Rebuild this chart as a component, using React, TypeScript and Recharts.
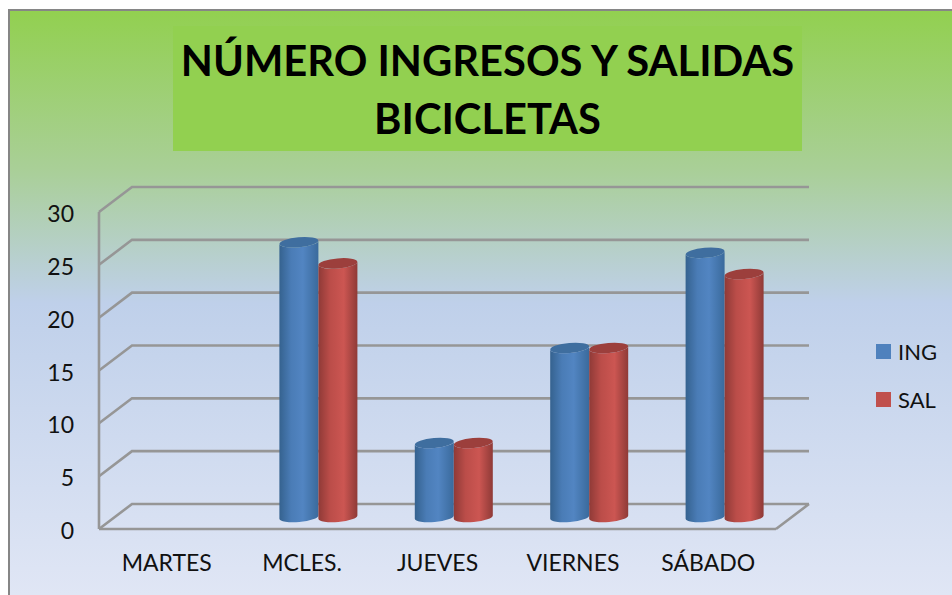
import React from "react";
import { BarChart, Bar, XAxis, YAxis, CartesianGrid, Legend } from "recharts";

const categories = ["MARTES", "MCLES.", "JUEVES", "VIERNES", "SÁBADO"];
const ingValues = [0, 26, 7, 16, 25];
const salValues = [0, 24, 7, 16, 23];
const yTicks = [0, 5, 10, 15, 20, 25, 30];
const titleLines = ["NÚMERO INGRESOS Y SALIDAS", "BICICLETAS"];

const data = categories.map((day, i) => ({ day, ING: ingValues[i], SAL: salValues[i] }));

const FONT = "Lato, 'Open Sans', sans-serif";
const GRID = "#969696";
const DEPTH_X = 33;
const DEPTH_Y = 25;

const gridLine = (p: any) => {
  const { x1, x2, y1, key } = p;
  const d = `M${x1},${y1} L${x1 + DEPTH_X},${y1 - DEPTH_Y} L${x2 + DEPTH_X},${y1 - DEPTH_Y}` +
    (y1 > 520 ? ` M${x2},${y1} L${x2 + DEPTH_X},${y1 - DEPTH_Y}` : "");
  return <path key={key} d={d} fill="none" stroke={GRID} strokeWidth={2.6} />;
};

const cylinder = (gradId: string, topColor: string) => (p: any) => {
  const { x, y, width, height } = p;
  if (!height || height <= 0) return <g />;
  const rx = width / 2;
  const ry = 5;
  const dx = 16;
  const dy = -12;
  const X = x + dx;
  const Y = y + dy;
  const rot = -5;
  const tilt = Math.tan((rot * Math.PI) / 180) * rx;
  const yl = Y - tilt;
  const yr = Y + tilt;
  const body =
    `M${X},${yl} L${X},${yl + height} A${rx},${ry} ${rot} 0 0 ${X + width},${yr + height} ` +
    `L${X + width},${yr} A${rx},${ry} ${rot} 0 1 ${X},${yl} Z`;
  return (
    <g>
      <path d={body} fill={`url(#${gradId})`} />
      <ellipse cx={X + rx} cy={Y} rx={rx} ry={ry} fill={topColor} transform={`rotate(${rot} ${X + rx} ${Y})`} />
    </g>
  );
};

const legendContent = (props: any) => (
  <div style={{ fontFamily: FONT, fontSize: 22, color: "#111" }}>
    {(props.payload || []).map((e: any) => (
      <div key={e.value} style={{ display: "flex", alignItems: "center", height: 48 }}>
        <span style={{ width: 15, height: 15, background: e.value === "ING" ? "#4f81bd" : "#c0504d", marginRight: 7 }} />
        <span>{e.value}</span>
      </div>
    ))}
  </div>
);

export default function App() {
  return (
    <div style={{ position: "absolute", left: 0, top: 0, width: 952, height: 595, overflow: "hidden", background: "#fff" }}>
      <div
        style={{
          position: "absolute",
          left: 8,
          top: 9,
          width: 944,
          height: 586,
          boxSizing: "border-box",
          borderLeft: "2px solid #868686",
          borderTop: "2px solid #868686",
          background:
            "linear-gradient(180deg, #92d050 0%, #a9cf97 27%, #bfd0ea 50%, #e0e6f5 100%)",
        }}
      />
      <div
        style={{
          position: "absolute",
          left: 173,
          top: 26,
          width: 629,
          height: 125,
          background: "#92d050",
          fontFamily: FONT,
          fontWeight: 700,
          fontSize: 41.7,
          color: "#000",
          textAlign: "center",
          lineHeight: "58px",
          paddingTop: 5,
          boxSizing: "border-box",
          whiteSpace: "nowrap",
        }}
      >
        {titleLines.map((t) => (
          <div key={t}>{t}</div>
        ))}
      </div>
      <div style={{ position: "absolute", left: 0, top: 0 }}>
        <BarChart
          width={952}
          height={595}
          data={data}
          barSize={39}
          barGap={0}
          margin={{ top: 212, right: 100, bottom: 36, left: 59 }}
        >
          <defs>
            <linearGradient id="blueCyl" x1="0" y1="0" x2="1" y2="0">
              <stop offset="0%" stopColor="#35628f" />
              <stop offset="30%" stopColor="#4a7cb6" />
              <stop offset="60%" stopColor="#5285c2" />
              <stop offset="100%" stopColor="#3a6a9c" />
            </linearGradient>
            <linearGradient id="redCyl" x1="0" y1="0" x2="1" y2="0">
              <stop offset="0%" stopColor="#8f3a37" />
              <stop offset="30%" stopColor="#bb4d49" />
              <stop offset="65%" stopColor="#cc5652" />
              <stop offset="100%" stopColor="#8f3a37" />
            </linearGradient>
          </defs>
          <CartesianGrid vertical={false} horizontal={gridLine as any} />
          <XAxis
            dataKey="day"
            height={30}
            tickLine={false}
            axisLine={{ stroke: GRID, strokeWidth: 2.6 }}
            tick={{ fontFamily: FONT, fontSize: 23, fill: "#111" }}
            tickMargin={20}
            interval={0}
          />
          <YAxis
            domain={[0, 30]}
            ticks={yTicks}
            width={40}
            tickLine={false}
            axisLine={{ stroke: GRID, strokeWidth: 2.6 }}
            tick={{ fontFamily: FONT, fontSize: 23, fill: "#111", dy: 2 }}
            tickMargin={19}
            interval={0}
          />
          <Legend
            layout="vertical"
            align="right"
            verticalAlign="top"
            wrapperStyle={{ left: 876, top: 327, width: 76 }}
            content={legendContent}
          />
          <Bar dataKey="ING" isAnimationActive={false} fill="#4f81bd" shape={cylinder("blueCyl", "#3f6e9f") as any} />
          <Bar dataKey="SAL" isAnimationActive={false} fill="#c0504d" shape={cylinder("redCyl", "#9c3f3c") as any} />
        </BarChart>
      </div>
    </div>
  );
}
